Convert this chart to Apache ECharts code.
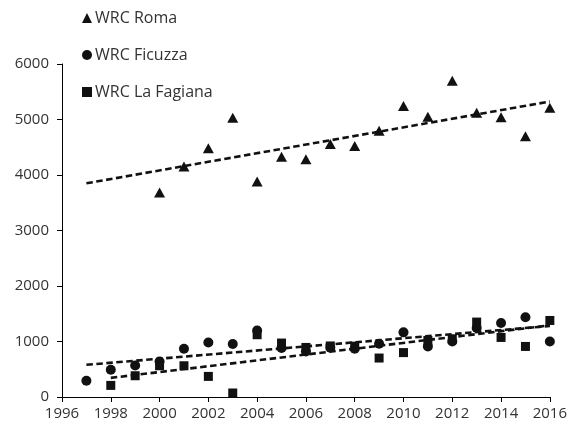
<!DOCTYPE html>
<html>
<head>
<meta charset="utf-8">
<script src="https://cdn.jsdelivr.net/npm/echarts@6/dist/echarts.min.js"></script>
<style>html,body{margin:0;padding:0;background:#fff}#c{width:570px;height:431px}</style>
</head>
<body>
<div id="c"></div>
<script>
const years = [1997,1998,1999,2000,2001,2002,2003,2004,2005,2006,2007,2008,2009,2010,2011,2012,2013,2014,2015,2016];
const romaYears = [2000,2001,2002,2003,2004,2005,2006,2007,2008,2009,2010,2011,2012,2013,2014,2015,2016];
const roma = [3683,4151,4482,5033,3881,4331,4284,4560,4524,4799,5244,5051,5699,5123,5040,4698,5213];
const ficuzza = [293,491,569,641,869,983,954,1199,882,821,890,869,960,1165,911,1001,1242,1332,1438,1001];
const fagianaYears = [1998,1999,2000,2001,2002,2003,2004,2005,2006,2007,2008,2009,2010,2011,2012,2013,2014,2015,2016];
const fagiana = [209,383,563,563,371,72,1122,972,893,920,916,702,800,1019,1049,1350,1073,911,1379];
const romaTrend = [[1997,3850],[2016,5324]];
const ficuzzaTrend = [[1997,580],[2016,1280]];
const fagianaTrend = [[1998,345],[2016,1290]];
const names = ['WRC Roma','WRC Ficuzza','WRC La Fagiana'];

const zip = (xs, ys) => xs.map((x, i) => [x, ys[i]]);
const font = 'Open Sans';
const trendStyle = {color:'#111', width:2.6, type:[6.5,3.5]};
const mark = {color:'#111', opacity:1};

const chart = echarts.init(document.getElementById('c'));
chart.setOption({
  animation:false,
  textStyle:{fontFamily:font},
  legend:{
    data:names, orient:'vertical', left:82, top:10,
    itemWidth:10, itemHeight:10, itemGap:21, padding:[0,0,0,0],
    textStyle:{fontFamily:font, fontSize:16, color:'#333', padding:[0,0,0,-2]}
  },
  grid:{left:62, right:20, top:64, bottom:34},
  xAxis:{
    type:'value', min:1996, max:2016, interval:2,
    axisLine:{lineStyle:{color:'#000', width:1}},
    axisTick:{show:true, length:5, lineStyle:{color:'#000'}},
    splitLine:{show:false},
    axisLabel:{fontFamily:font, fontSize:15, color:'#333', margin:9, formatter:v => String(v)}
  },
  yAxis:{
    type:'value', min:0, max:6000, interval:1000,
    axisLine:{show:true, lineStyle:{color:'#000', width:1}},
    axisTick:{show:true, length:5, lineStyle:{color:'#000'}},
    splitLine:{show:false},
    axisLabel:{fontFamily:font, fontSize:15, color:'#333', margin:13, formatter:v => String(v)}
  },
  series:[
    {name:names[0], type:'scatter', symbol:'triangle', symbolSize:[11,10], itemStyle:mark, data:zip(romaYears, roma), z:3},
    {name:names[1], type:'scatter', symbol:'circle', symbolSize:10, itemStyle:mark, data:zip(years, ficuzza), z:3},
    {name:names[2], type:'scatter', symbol:'rect', symbolSize:9, itemStyle:mark, data:zip(fagianaYears, fagiana), z:3},
    {name:'t1', type:'line', data:romaTrend, symbol:'none', lineStyle:trendStyle, z:4},
    {name:'t2', type:'line', data:ficuzzaTrend, symbol:'none', lineStyle:trendStyle, z:4},
    {name:'t3', type:'line', data:fagianaTrend, symbol:'none', lineStyle:trendStyle, z:4}
  ]
});
</script>
</body>
</html>
